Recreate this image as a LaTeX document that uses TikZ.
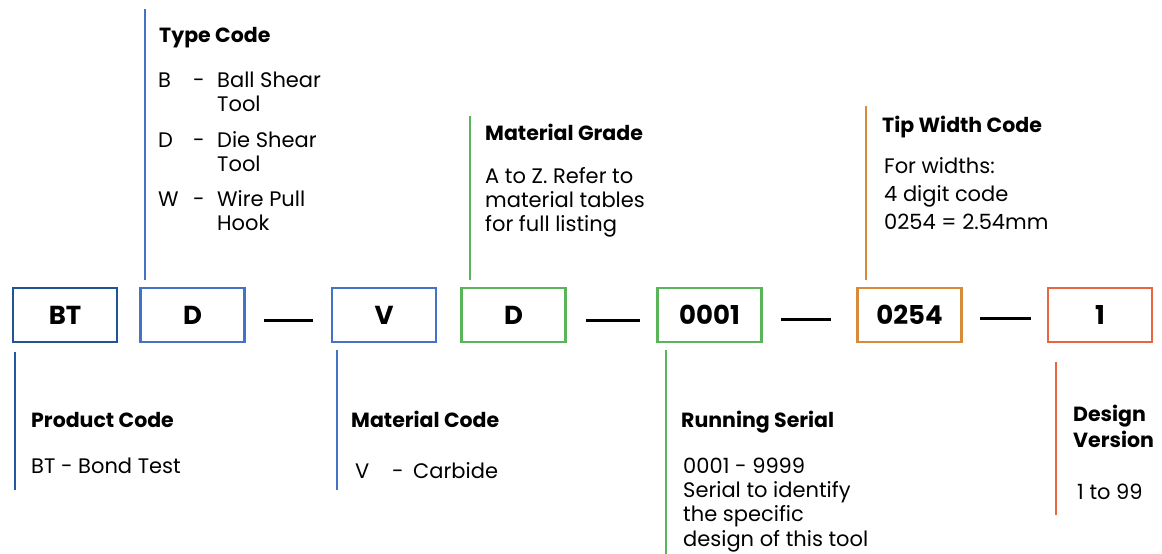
\documentclass[tikz,border=0pt]{standalone}
\usepackage{fontspec}
\setmainfont{Poppins}
\begin{document}
\begin{tikzpicture}[x=1pt,y=-1pt,
  codebox/.style={draw,line width=2.6pt,minimum width=104pt,minimum height=54pt,inner sep=0pt,font=\fontsize{26}{28}\selectfont\bfseries},
  lbl/.style={anchor=base west,inner sep=0pt,align=left,font=\fontsize{21}{24}\selectfont},
  head/.style={anchor=base west,inner sep=0pt,align=left,font=\fontsize{20.5}{26}\selectfont\bfseries},
  leader/.style={line width=2.4pt},
  sep/.style={line width=3pt,black}]
\definecolor{cdblue}{HTML}{1F5597}
\definecolor{cblue}{HTML}{4472C4}
\definecolor{cgreen}{HTML}{5AB55A}
\definecolor{corange}{HTML}{D68A3A}
\definecolor{cred}{HTML}{E8663D}
\useasboundingbox (0,0) rectangle (1162,554);

% code boxes
\node[codebox,draw=cdblue] (bt) at (65,315) {BT};
\node[codebox,draw=cblue] (d) at (192.5,315) {D};
\node[codebox,draw=cblue] (v) at (384,315) {V};
\node[codebox,draw=cgreen] (g) at (513.5,315) {D};
\node[codebox,draw=cgreen] (s) at (709.5,315) {0001};
\node[codebox,draw=corange] (w) at (909.5,315) {0254};
\node[codebox,draw=cred] (r) at (1100,315) {1};

% separators
\coordinate (s1a) at (264,320); \coordinate (s1b) at (313,320);
\coordinate (s2a) at (586,320); \coordinate (s2b) at (640,320);
\coordinate (s3a) at (781,319); \coordinate (s3b) at (831,319);
\coordinate (s4a) at (980,318); \coordinate (s4b) at (1031,318);
\draw[sep] (s1a) -- (s1b);
\draw[sep] (s2a) -- (s2b);
\draw[sep] (s3a) -- (s3b);
\draw[sep] (s4a) -- (s4b);

% leader lines
\coordinate (l1a) at (145,9);   \coordinate (l1b) at (145,280);
\coordinate (l2a) at (15,352);  \coordinate (l2b) at (15,490);
\coordinate (l3a) at (337,350); \coordinate (l3b) at (337,490);
\coordinate (l4a) at (470,116); \coordinate (l4b) at (470,280);
\coordinate (l5a) at (666,350); \coordinate (l5b) at (666,554);
\coordinate (l6a) at (866,106); \coordinate (l6b) at (866,280);
\coordinate (l7a) at (1056,362);\coordinate (l7b) at (1056,515);
\draw[leader,cblue] (l1a) -- (l1b);
\draw[leader,cdblue!85!cblue] (l2a) -- (l2b);
\draw[leader,cblue] (l3a) -- (l3b);
\draw[leader,cgreen] (l4a) -- (l4b);
\draw[leader,cgreen] (l5a) -- (l5b);
\draw[leader,corange] (l6a) -- (l6b);
\draw[leader,cred] (l7a) -- (l7b);

% Type Code
\node[head] (th) at (159,42) {Type Code};
\node[lbl] (tb) at (158,87) {B};
\node[lbl] (tbd) at (193,87) {-};
\node[lbl] (tbt) at (217,111) {Ball Shear\\Tool};
\node[lbl] (td) at (158,147) {D};
\node[lbl] (tdd) at (193,147) {-};
\node[lbl] (tdt) at (217,171) {Die Shear\\Tool};
\node[lbl] (tw) at (158,206) {W};
\node[lbl] (twd) at (193,206) {-};
\node[lbl] (twt) at (217,230) {Wire Pull\\Hook};

% Material Grade
\node[head] (mgh) at (485,140) {Material Grade};
\node[lbl] (mgt) at (485,231) {A to Z. Refer to\\material tables\\for full listing};

% Tip Width Code
\node[head] (twh) at (882,132) {Tip Width Code};
\node[lbl,font=\fontsize{21}{28}\selectfont] (twx) at (884,229) {For widths:\\4 digit code\\0254 = 2.54mm};

% Product Code
\node[head] (pch) at (31,427) {Product Code};
\node[lbl] (pct) at (31,473) {BT - Bond Test};

% Material Code
\node[head] (mch) at (351,427) {Material Code};
\node[lbl] (mcv) at (355,478) {V};
\node[lbl] (mcd) at (392,478) {-};
\node[lbl] (mct) at (413,478) {Carbide};

% Running Serial
\node[head] (rsh) at (681,427) {Running Serial};
\node[lbl,font=\fontsize{21}{24.3}\selectfont] (rst) at (683,546) {0001 - 9999\\Serial to identify\\the specific\\design of this tool};

% Design Version
\node[head] (dvh) at (1073,447) {Design\\Version};
\node[lbl] (dvt) at (1077,499) {1 to 99};
\end{tikzpicture}
\end{document}
